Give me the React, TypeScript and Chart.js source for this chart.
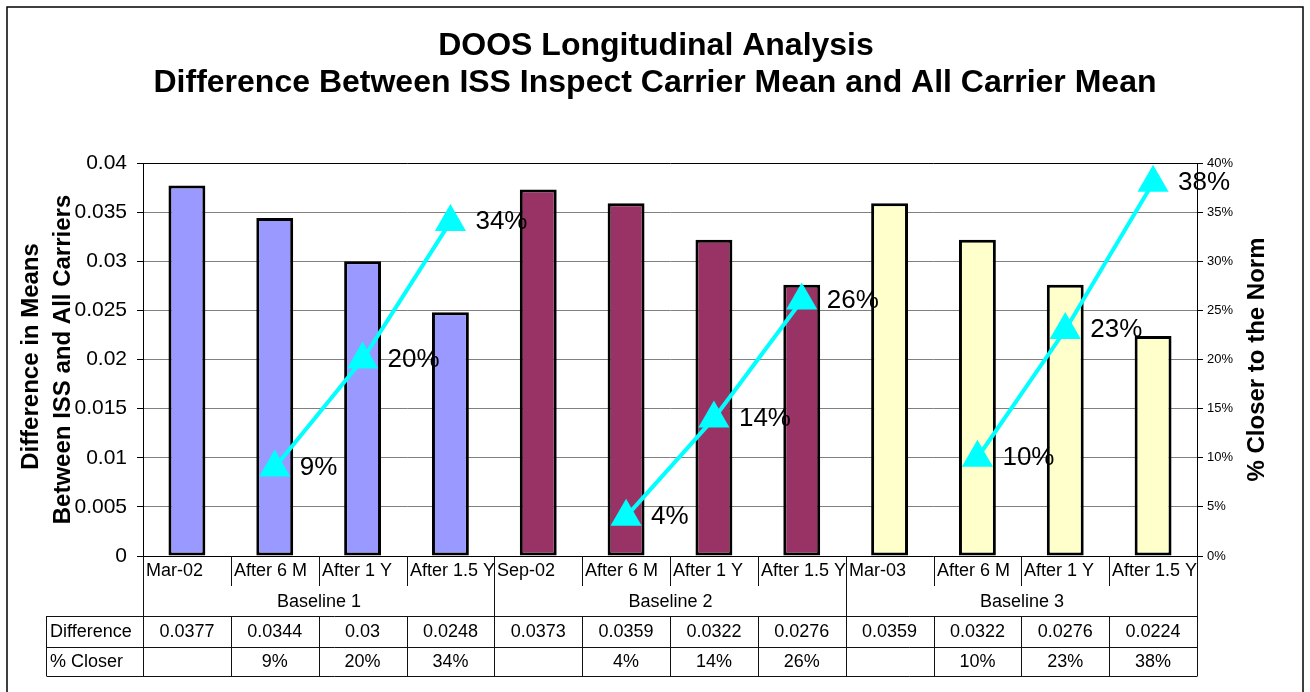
import React, { useEffect, useRef } from "react";
import { Chart, registerables } from "chart.js";

Chart.register(...registerables);

const titleLines = [
  "DOOS Longitudinal Analysis",
  "Difference Between ISS Inspect Carrier Mean and All Carrier Mean",
];
const leftAxisTitle = ["Difference in Means", "Between ISS and All Carriers"];
const rightAxisTitle = "% Closer to the Norm";

const categories = [
  "Mar-02", "After 6 M", "After 1 Y", "After 1.5 Y",
  "Sep-02", "After 6 M", "After 1 Y", "After 1.5 Y",
  "Mar-03", "After 6 M", "After 1 Y", "After 1.5 Y",
];
const groups = ["Baseline 1", "Baseline 2", "Baseline 3"];
const groupSize = 4;
const difference = [
  0.0377, 0.0344, 0.03, 0.0248,
  0.0373, 0.0359, 0.0322, 0.0276,
  0.0359, 0.0322, 0.0276, 0.0224,
];
const closerPct: (number | null)[] = [
  null, 9, 20, 34,
  null, 4, 14, 26,
  null, 10, 23, 38,
];
const groupColors = ["#9999FF", "#993366", "#FFFFCC"];
const tableRowNames = ["Difference", "% Closer"];

const FONT = "'Liberation Sans', Arial, sans-serif";

const overlayPlugin = {
  id: "overlay",
  afterDatasetsDraw(chart: any) {
    const ctx = chart.ctx;
    const meta = chart.getDatasetMeta(1);
    ctx.save();
    ctx.fillStyle = "#000";
    ctx.font = `26px ${FONT}`;
    ctx.textAlign = "left";
    ctx.textBaseline = "middle";
    meta.data.forEach((pt: any, i: number) => {
      const v = closerPct[i];
      if (v === null || v === undefined) return;
      ctx.fillText(`${v}%`, pt.x + 25, pt.y);
    });
    ctx.restore();
  },
  afterDraw(chart: any) {
    const ctx = chart.ctx;
    const area = chart.chartArea;
    const xs = chart.scales.x;
    const W = chart.width;
    ctx.save();
    // outer frame
    ctx.strokeStyle = "#000";
    ctx.lineWidth = 1.5;
    ctx.strokeRect(7, 7, W - 14, 700);

    // title
    ctx.fillStyle = "#000";
    ctx.textAlign = "center";
    ctx.textBaseline = "middle";
    ctx.font = `bold 32px ${FONT}`;
    ctx.fillText(titleLines[0], W / 2 + 1, 46);
    ctx.fillText(titleLines[1], W / 2, 83);

    // axis titles
    const midY = (area.top + area.bottom) / 2;
    ctx.font = `bold 24px ${FONT}`;
    ctx.save();
    ctx.translate(31, midY - 3);
    ctx.rotate(-Math.PI / 2);
    ctx.fillText(leftAxisTitle[0], 0, 0);
    ctx.restore();
    ctx.save();
    ctx.translate(63, midY);
    ctx.rotate(-Math.PI / 2);
    ctx.fillText(leftAxisTitle[1], 0, 0);
    ctx.restore();
    ctx.save();
    ctx.translate(1257, midY);
    ctx.rotate(-Math.PI / 2);
    ctx.fillText(rightAxisTitle, 0, 0);
    ctx.restore();

    // table
    const n = categories.length;
    const step = (area.right - area.left) / n;
    const edge = (i: number) => Math.round(area.left + step * i) + 0.5;
    const catTop = area.bottom;
    const catBottom = area.bottom + 30;
    const grpBottom = area.bottom + 60;
    const row1Bottom = area.bottom + 91;
    const row2Bottom = area.bottom + 120;
    const tableLeft = 46.5;

    ctx.strokeStyle = "#111";
    ctx.lineWidth = 1;
    ctx.beginPath();
    for (let i = 0; i <= n; i++) {
      const x = edge(i);
      if (i % groupSize === 0) {
        ctx.moveTo(x, catTop);
        ctx.lineTo(x, row2Bottom);
      } else {
        ctx.moveTo(x, catTop);
        ctx.lineTo(x, catBottom);
        ctx.moveTo(x, grpBottom);
        ctx.lineTo(x, row2Bottom);
      }
    }
    [grpBottom, row1Bottom, row2Bottom].forEach((y) => {
      ctx.moveTo(tableLeft, Math.round(y) + 0.5);
      ctx.lineTo(edge(n), Math.round(y) + 0.5);
    });
    ctx.moveTo(tableLeft, grpBottom);
    ctx.lineTo(tableLeft, row2Bottom);
    ctx.stroke();

    ctx.fillStyle = "#000";
    ctx.font = `18px ${FONT}`;
    ctx.textBaseline = "middle";
    // categories
    ctx.textAlign = "left";
    categories.forEach((c, i) => {
      ctx.fillText(c, edge(i) + 2.5, (catTop + catBottom) / 2);
    });
    // groups
    ctx.textAlign = "center";
    groups.forEach((g, gi) => {
      const x0 = edge(gi * groupSize);
      const x1 = edge((gi + 1) * groupSize);
      ctx.fillText(g, (x0 + x1) / 2, (catBottom + grpBottom) / 2 + 1);
    });
    // rows
    ctx.textAlign = "left";
    ctx.fillText(tableRowNames[0], tableLeft + 3.5, (grpBottom + row1Bottom) / 2 + 1);
    ctx.fillText(tableRowNames[1], tableLeft + 3.5, (row1Bottom + row2Bottom) / 2 + 1);
    ctx.textAlign = "center";
    for (let i = 0; i < n; i++) {
      const cx = xs.getPixelForValue(i);
      ctx.fillText(String(difference[i]), cx, (grpBottom + row1Bottom) / 2 + 1);
      const c = closerPct[i];
      if (c !== null) ctx.fillText(`${c}%`, cx, (row1Bottom + row2Bottom) / 2 + 1);
    }
    ctx.restore();
  },
};

export default function App() {
  const ref = useRef<HTMLCanvasElement | null>(null);
  useEffect(() => {
    if (!ref.current) return;
    const barColors = categories.map((_, i) => groupColors[Math.floor(i / groupSize)]);
    const chart = new Chart(ref.current, {
      type: "bar",
      data: {
        labels: categories,
        datasets: [
          {
            type: "bar",
            data: difference,
            backgroundColor: barColors,
            borderColor: "#000",
            borderWidth: 3,
            borderSkipped: false,
            barPercentage: 0.42,
            categoryPercentage: 1,
            yAxisID: "y",
            order: 2,
          } as any,
          {
            type: "line",
            data: closerPct,
            borderColor: "#00FFFF",
            borderWidth: 4,
            pointStyle: "triangle",
            pointRadius: 18,
            pointBackgroundColor: "#00FFFF",
            pointBorderColor: "#00FFFF",
            pointBorderWidth: 0,
            spanGaps: false,
            yAxisID: "y1",
            order: 1,
          } as any,
        ],
      },
      options: {
        responsive: false,
        animation: false,
        layout: { padding: { top: 163, bottom: 136, left: 0, right: 0 } },
        plugins: {
          legend: { display: false },
          tooltip: { enabled: false },
          title: { display: false },
        },
        scales: {
          x: { display: false },
          y: {
            position: "left",
            min: 0,
            max: 0.04,
            afterFit: (s: any) => { s.width = 143; },
            ticks: {
              stepSize: 0.005,
              color: "#000",
              padding: 10,
              font: { family: FONT, size: 21 },
              callback: (v: any) => String(Number(Number(v).toFixed(3))),
            },
            grid: {
              color: (c: any) => (c.tick && (c.tick.value === 0 || Math.abs(c.tick.value - 0.04) < 1e-9) ? "#000" : "#808080"),
              lineWidth: 1,
              tickLength: 6,
              drawTicks: true,
              tickColor: "#000",
            },
            border: { display: true, color: "#000", width: 1 },
          },
          y1: {
            position: "right",
            min: 0,
            max: 40,
            afterFit: (s: any) => { s.width = 113; },
            ticks: {
              stepSize: 5,
              color: "#000",
              padding: 4,
              font: { family: FONT, size: 13 },
              callback: (v: any) => `${v}%`,
            },
            grid: { drawOnChartArea: false, color: "#000", tickLength: 6 },
            border: { display: true, color: "#000", width: 1 },
          },
        },
      } as any,
      plugins: [overlayPlugin],
    });
    return () => chart.destroy();
  }, []);
  return (
    <div style={{ position: "absolute", left: 0, top: 0, width: 1310, height: 692, background: "#fff" }}>
      <canvas ref={ref} width={1310} height={692} />
    </div>
  );
}
